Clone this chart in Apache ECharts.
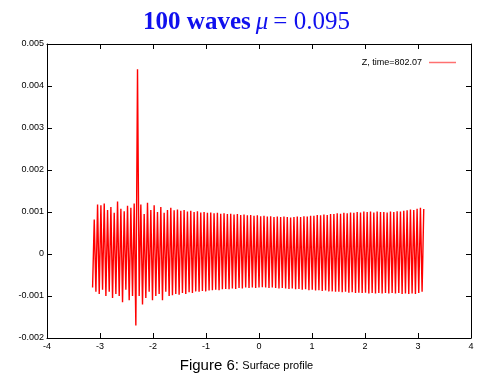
<!DOCTYPE html>
<html>
<head>
<meta charset="utf-8">
<script src="https://cdn.jsdelivr.net/npm/echarts@6/dist/echarts.min.js"></script>
<style>
html,body{margin:0;padding:0;background:#fff;}
#c{width:493px;height:385px;}
</style>
</head>
<body>
<div id="c"></div>
<script>
// Wave profile extent (x) and per-wave crest / trough heights
const waveStart = -3.14;
const waveEnd = 3.14;
const crests = [
  0.00082, 0.00118, 0.00116, 0.00120, 0.00105, 0.00112, 0.00098, 0.00125, 0.00108, 0.00102,
  0.00115, 0.00110, 0.00120, 0.00440, 0.00118, 0.00095, 0.00122, 0.00105, 0.00116, 0.00100,
  0.00112, 0.00098, 0.00105, 0.00110,
  0.00104, 0.00106, 0.00103, 0.00105, 0.00101, 0.00103, 0.00100, 0.00102, 0.00099, 0.00100,
  0.00098, 0.00099, 0.00097, 0.00098, 0.00096, 0.00097, 0.00095, 0.00096,
  0.00094, 0.00095, 0.00093, 0.00094, 0.00092, 0.00093, 0.00091, 0.00092,
  0.00090, 0.00091, 0.00089, 0.00090, 0.00088, 0.00089, 0.00088, 0.00089,
  0.00088, 0.00087, 0.00088, 0.00089, 0.00088, 0.00090, 0.00089, 0.00091,
  0.00091, 0.00093, 0.00092, 0.00094, 0.00093, 0.00095, 0.00095, 0.00097,
  0.00096, 0.00098, 0.00097, 0.00099, 0.00098, 0.00100, 0.00099, 0.00101,
  0.00100, 0.00101, 0.00099, 0.00101, 0.00100, 0.00100, 0.00099, 0.00101,
  0.00100, 0.00102, 0.00101, 0.00103, 0.00104, 0.00106, 0.00105, 0.00108, 0.00110, 0.00107
];
const troughs = [
  -0.00080, -0.00090, -0.00095, -0.00085, -0.00100, -0.00090, -0.00105, -0.00095, -0.00100, -0.00115,
  -0.00085, -0.00110, -0.00100, -0.00170, -0.00100, -0.00120, -0.00105, -0.00090, -0.00110, -0.00100,
  -0.00095, -0.00110, -0.00090, -0.00100,
  -0.00098, -0.00095, -0.00097, -0.00093, -0.00095, -0.00091, -0.00093, -0.00089, -0.00090, -0.00088,
  -0.00089, -0.00087, -0.00086, -0.00085, -0.00086, -0.00084, -0.00083, -0.00084,
  -0.00082, -0.00083, -0.00081, -0.00082, -0.00080, -0.00081, -0.00080, -0.00081,
  -0.00080, -0.00079, -0.00080, -0.00081, -0.00080, -0.00081, -0.00082, -0.00081,
  -0.00082, -0.00083, -0.00082, -0.00084, -0.00083, -0.00085, -0.00084, -0.00086,
  -0.00085, -0.00087, -0.00086, -0.00088, -0.00087, -0.00089, -0.00089, -0.00090,
  -0.00090, -0.00091, -0.00090, -0.00092, -0.00091, -0.00093, -0.00092, -0.00093,
  -0.00092, -0.00094, -0.00093, -0.00094, -0.00093, -0.00094, -0.00093, -0.00094,
  -0.00093, -0.00094, -0.00093, -0.00095, -0.00094, -0.00095, -0.00094, -0.00095, -0.00093, -0.00090
];
const seriesName = 'Z, time=802.07';
const titleParts = ['100 waves', 'μ', '= 0.095'];
const captionParts = ['Figure 6:', 'Surface profile'];

const nWaves = crests.length;
const L = (waveEnd - waveStart) / nWaves;
const data = [];
for (let i = 0; i < nWaves; i++) {
  data.push([waveStart + i * L, troughs[i]]);
  data.push([waveStart + (i + 0.5) * L, crests[i]]);
}

const chart = echarts.init(document.getElementById('c'), null, {renderer: 'canvas'});
const fmtY = v => String(Math.round(v * 1000) / 1000);
const axisCommon = {
  axisLine: {show: true, onZero: false, lineStyle: {color: '#000', width: 1}},
  axisTick: {show: true, inside: true, length: 5, lineStyle: {color: '#000'}},
  splitLine: {show: false}
};
chart.setOption({
  animation: false,
  backgroundColor: '#fff',
  title: {
    text: '{b|' + titleParts[0] + '} {i|' + titleParts[1] + '} {r|' + titleParts[2] + '}',
    left: 'center', top: 5,
    textStyle: {
      fontWeight: 'normal',
      rich: {
        b: {fontFamily: 'Liberation Serif', fontWeight: 'bold', fontSize: 25, color: '#1010ee'},
        i: {fontFamily: 'Liberation Serif', fontStyle: 'italic', fontWeight: 'normal', fontSize: 25, color: '#1010ee'},
        r: {fontFamily: 'Liberation Serif', fontWeight: 'normal', fontSize: 25, color: '#1010ee'}
      }
    }
  },
  legend: {
    right: 32, top: 53,
    icon: 'rect', itemWidth: 27, itemHeight: 1.5, itemGap: 4,
    align: 'right',
    textStyle: {fontFamily: 'Liberation Sans', fontSize: 9, color: '#000', padding: [0, 2, 0, 0]},
    data: [{name: seriesName, itemStyle: {color: '#ff7070'}}]
  },
  grid: {left: 47, right: 22, top: 44, bottom: 47, containLabel: false},
  xAxis: [
    Object.assign({
      type: 'value', min: -4, max: 4, interval: 1, position: 'bottom',
      axisLabel: {fontFamily: 'Liberation Sans', fontSize: 9, color: '#000', margin: 4}
    }, axisCommon),
    Object.assign({
      type: 'value', min: -4, max: 4, interval: 1, position: 'top',
      axisLabel: {show: false}
    }, axisCommon)
  ],
  yAxis: [
    Object.assign({
      type: 'value', min: -0.002, max: 0.005, interval: 0.001, position: 'left',
      axisLabel: {fontFamily: 'Liberation Sans', fontSize: 9, color: '#000', margin: 3, formatter: fmtY}
    }, axisCommon),
    Object.assign({
      type: 'value', min: -0.002, max: 0.005, interval: 0.001, position: 'right',
      axisLabel: {show: false}
    }, axisCommon)
  ],
  series: [{
    name: seriesName,
    type: 'line',
    xAxisIndex: 0, yAxisIndex: 0,
    data: data,
    showSymbol: false,
    symbol: 'none',
    lineStyle: {color: '#ff0000', width: 1.4},
    itemStyle: {color: '#ff7070'}
  }],
  graphic: [{
    type: 'text',
    left: 'center', top: 358,
    style: {
      text: '{a|' + captionParts[0] + '} {b|' + captionParts[1] + '}',
      rich: {
        a: {fontFamily: 'Liberation Sans', fontSize: 15, fill: '#000'},
        b: {fontFamily: 'Liberation Sans', fontSize: 11, fill: '#000'}
      }
    }
  }]
});
</script>
</body>
</html>
